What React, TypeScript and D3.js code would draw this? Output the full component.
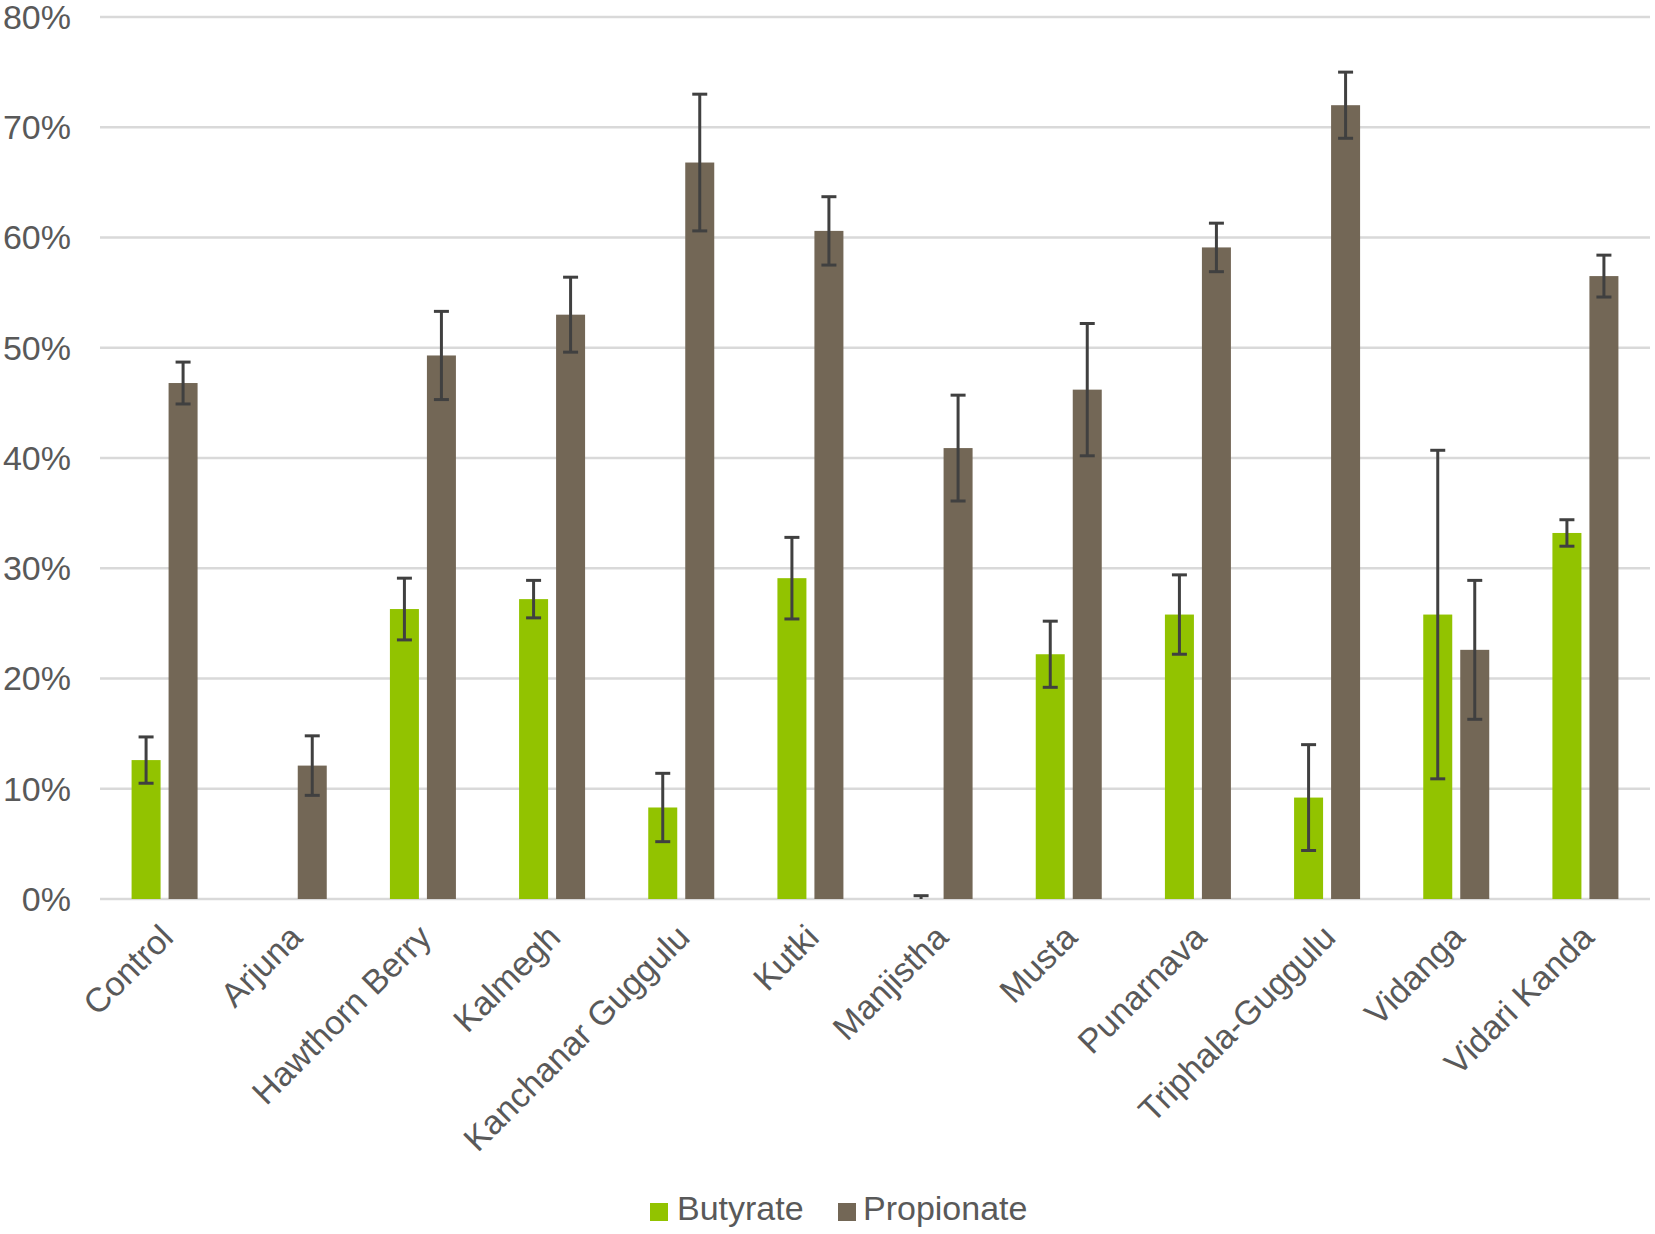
import React from 'react';
import * as d3 from 'd3';

// Chart data
const categories = [
  'Control', 'Arjuna', 'Hawthorn Berry', 'Kalmegh', 'Kanchanar Guggulu', 'Kutki',
  'Manjistha', 'Musta', 'Punarnava', 'Triphala-Guggulu', 'Vidanga', 'Vidari Kanda',
];
const seriesNames = ['Butyrate', 'Propionate'];

const butyrate = [12.6, 0, 26.3, 27.2, 8.3, 29.1, 0, 22.2, 25.8, 9.2, 25.8, 33.2];
const butyrateErr = [2.1, 0, 2.8, 1.7, 3.1, 3.7, 0.3, 3.0, 3.6, 4.8, 14.9, 1.2];
const propionate = [46.8, 12.1, 49.3, 53.0, 66.8, 60.6, 40.9, 46.2, 59.1, 72.0, 22.6, 56.5];
const propionateErr = [1.9, 2.7, 4.0, 3.4, 6.2, 3.1, 4.8, 6.0, 2.2, 3.0, 6.3, 1.9];

const yTicks = [0, 10, 20, 30, 40, 50, 60, 70, 80];

const COLORS: Record<string, string> = {
  Butyrate: '#92c300',
  Propionate: '#736756',
};

const W = 1655;
const H = 1234;
const FONT = '"Liberation Sans", Arial, sans-serif';
const TEXT = '#595959';

export default function App() {
  const x = d3.scaleBand<string>().domain(categories).range([100, 1650]).padding(0);
  const half = 33;
  const xSub = d3.scaleBand<string>().domain(seriesNames).range([-half, half]).paddingInner(8 / 37);
  const y = d3.scaleLinear().domain([0, 80]).range([899, 17]);

  const rows = categories.map((c, i) => ({
    cat: c,
    values: [
      { s: 'Butyrate', v: butyrate[i], e: butyrateErr[i] },
      { s: 'Propionate', v: propionate[i], e: propionateErr[i] },
    ],
  }));

  const cx = (c: string) => (x(c) ?? 0) + x.bandwidth() / 2;

  return (
    <>
      <style>{'body{margin:0;background:#fff}'}</style>
      <svg width={W} height={H} viewBox={`0 0 ${W} ${H}`} style={{ display: 'block', fontFamily: FONT }}>
        <rect width={W} height={H} fill="#fff" />
        {/* gridlines + y labels */}
        {yTicks.map((t) => (
          <g key={t}>
            <line x1={100} x2={1650} y1={y(t)} y2={y(t)} stroke="#d9d9d9" strokeWidth={2.5} />
            <text x={71} y={y(t)} dy="0.35em" textAnchor="end" fontSize={34} fill={TEXT}>
              {t}%
            </text>
          </g>
        ))}

        {/* bars */}
        {rows.map((r) => (
          <g key={r.cat} transform={`translate(${cx(r.cat)},0)`}>
            {r.values.map((d) => {
              const bx = xSub(d.s) ?? 0;
              const bw = xSub.bandwidth();
              return (
                <rect
                  key={d.s}
                  x={bx}
                  width={bw}
                  y={y(d.v)}
                  height={y(0) - y(d.v)}
                  fill={COLORS[d.s]}
                />
              );
            })}
            {r.values.map((d) => {
              if (d.e <= 0) return null;
              const mx = (xSub(d.s) ?? 0) + xSub.bandwidth() / 2;
              const lo = y(Math.max(0, d.v - d.e));
              const hi = y(d.v + d.e);
              return (
                <g key={d.s + '-err'} stroke="#404040" strokeWidth={3}>
                  <line x1={mx} x2={mx} y1={lo} y2={hi} />
                  <line x1={mx - 7.5} x2={mx + 7.5} y1={hi} y2={hi} />
                  {d.v - d.e > 0 && <line x1={mx - 7.5} x2={mx + 7.5} y1={lo} y2={lo} />}
                </g>
              );
            })}
          </g>
        ))}

        {/* category labels */}
        {categories.map((c) => (
          <text
            key={c}
            transform={`translate(${cx(c) + 2},${931}) rotate(-45)`}
            textAnchor="end"
            dy="0.35em"
            fontSize={34}
            fill={TEXT}
          >
            {c}
          </text>
        ))}

        {/* legend */}
        <g>
          <rect x={650} y={1203} width={18} height={18} fill={COLORS.Butyrate} />
          <text x={677} y={1220} fontSize={34} fill={TEXT}>Butyrate</text>
          <rect x={838} y={1203} width={18} height={18} fill={COLORS.Propionate} />
          <text x={863} y={1220} fontSize={34} fill={TEXT}>Propionate</text>
        </g>
      </svg>
    </>
  );
}
